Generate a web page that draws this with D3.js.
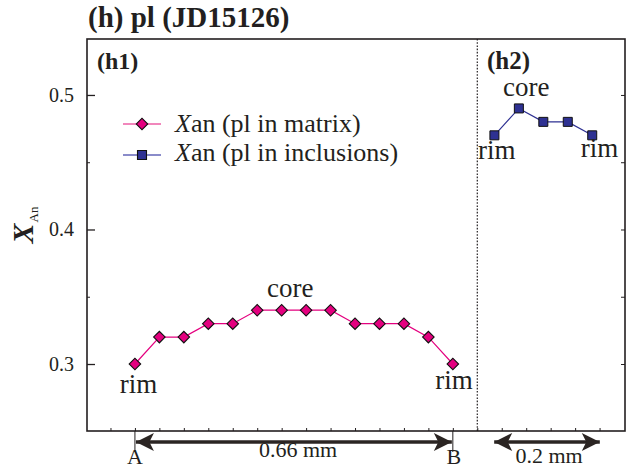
<!DOCTYPE html>
<html>
<head>
<meta charset="utf-8">
<script src="https://cdn.jsdelivr.net/npm/d3@7"></script>
<style>
  body { margin: 0; background: #fff; }
  svg text { font-family: "Liberation Serif", "Times New Roman", serif; fill: #231f20; }
</style>
</head>
<body>
<script>
const w = 627;
const h = 471;

// profile positions (spot number along the traverse) and X_An values
const matrixPos = [0, 1, 2, 3, 4, 5, 6, 7, 8, 9, 10, 11, 12, 13];
const matrixXan = [0.30, 0.32, 0.32, 0.33, 0.33, 0.34, 0.34, 0.34, 0.34, 0.33, 0.33, 0.33, 0.32, 0.30];
const inclPos = [14.7, 15.7, 16.7, 17.7, 18.7];
const inclXan = [0.47, 0.49, 0.48, 0.48, 0.47];
const yTicks = [0.3, 0.4, 0.5];
const yMinor = [0.35, 0.45];

// labels next to the profiles
const notes = [
    { text: "rim", pos: 0.15, val: 0.30, dy: 29 },
    { text: "core", pos: 6.35, val: 0.34, dy: -13 },
    { text: "rim", pos: 13.05, val: 0.30, dy: 25 },
    { text: "core", pos: 16, val: 0.49, dy: -12 },
    { text: "rim", pos: 14.8, val: 0.47, dy: 24 },
    { text: "rim", pos: 19.0, val: 0.47, dy: 22 }
];

const pink = "#e4007f";
const navy = "#2e3192";
const ink = "#231f20";

const svg = d3.select("body").append("svg")
    .attr("width", w)
    .attr("height", h);

const plotL = 87, plotR = 625, plotT = 39, plotB = 431;

const xScale = d3.scaleLinear().domain([-1.96, 20.04]).range([plotL, plotR]);
const yScale = d3.scaleLinear().domain([0.2502, 0.5416]).range([plotB, plotT]);

// title
svg.append("text")
    .attr("x", 88).attr("y", 27)
    .attr("font-size", 29).attr("font-weight", "bold")
    .text("(h) pl (JD15126)");

// frame
svg.append("rect")
    .attr("x", plotL).attr("y", plotT)
    .attr("width", plotR - plotL).attr("height", plotB - plotT)
    .attr("fill", "none").attr("stroke", ink).attr("stroke-width", 1.6);

// left axis, ticks pointing inside
const yAxis = d3.axisLeft(yScale).tickValues(yTicks).tickSize(-8).tickPadding(13)
    .tickFormat(d3.format(".1f"));
const gy = svg.append("g").attr("transform", `translate(${plotL},0)`).call(yAxis);
gy.select(".domain").remove();
gy.selectAll("line").attr("stroke", ink).attr("stroke-width", 1.3);
gy.selectAll("text").attr("font-size", 20).attr("font-family", "Liberation Serif").attr("fill", "#3c3c3c");

const gyMinor = svg.append("g").attr("transform", `translate(${plotL},0)`)
    .call(d3.axisLeft(yScale).tickValues(yMinor).tickSize(-3).tickFormat(""));
gyMinor.select(".domain").remove();
gyMinor.selectAll("line").attr("stroke", ink);

// right axis, short inner ticks
const gr = svg.append("g").attr("transform", `translate(${plotR},0)`)
    .call(d3.axisRight(yScale).tickValues(yTicks.concat(yMinor)).tickSize(-4).tickFormat(""));
gr.select(".domain").remove();
gr.selectAll("line").attr("stroke", ink);

// bottom axis, small inner ticks
const gx = svg.append("g").attr("transform", `translate(0,${plotB})`)
    .call(d3.axisBottom(xScale).tickValues(d3.range(-1, 20)).tickSize(-3).tickFormat(""));
gx.select(".domain").remove();
gx.selectAll("line").attr("stroke", ink);

// divider between h1 and h2
svg.append("line")
    .attr("x1", xScale(14)).attr("x2", xScale(14))
    .attr("y1", plotT).attr("y2", plotB)
    .attr("stroke", ink).attr("stroke-width", 1.2)
    .attr("stroke-dasharray", "1.6,1.6");

// y label
const yl = svg.append("text")
    .attr("transform", "translate(33,225) rotate(-90)")
    .attr("text-anchor", "middle");
yl.append("tspan").attr("font-size", 30).attr("font-weight", "bold").attr("font-style", "italic").text("X");
yl.append("tspan").attr("font-size", 13).attr("dy", 5).attr("dx", 1).text("An");

// panel labels
svg.append("text").attr("x", 97).attr("y", 69).attr("font-size", 24).attr("font-weight", "bold").text("(h1)");
svg.append("text").attr("x", 487).attr("y", 69).attr("font-size", 25).attr("font-weight", "bold").text("(h2)");

const line = d3.line().x(d => xScale(d[0])).y(d => yScale(d[1]));
const matrix = matrixPos.map((p, i) => [p, matrixXan[i]]);
const incl = inclPos.map((p, i) => [p, inclXan[i]]);

svg.append("path").datum(matrix).attr("d", line)
    .attr("fill", "none").attr("stroke", pink).attr("stroke-width", 1.2);
svg.append("path").datum(incl).attr("d", line)
    .attr("fill", "none").attr("stroke", navy).attr("stroke-width", 1.2);

const diamond = d3.symbol().type(d3.symbolSquare).size(66);
svg.selectAll(".dia").data(matrix).enter().append("path")
    .attr("class", "dia")
    .attr("d", diamond)
    .attr("transform", d => `translate(${xScale(d[0])},${yScale(d[1])}) rotate(45)`)
    .attr("fill", pink).attr("stroke", "#111").attr("stroke-width", 1.1);

const square = d3.symbol().type(d3.symbolSquare).size(81);
svg.selectAll(".sq").data(incl).enter().append("path")
    .attr("class", "sq")
    .attr("d", square)
    .attr("transform", d => `translate(${xScale(d[0])},${yScale(d[1])})`)
    .attr("fill", navy).attr("stroke", "#111").attr("stroke-width", 1);

// rim / core labels
svg.selectAll(".note").data(notes).enter().append("text")
    .attr("x", d => xScale(d.pos))
    .attr("y", d => yScale(d.val) + d.dy)
    .attr("text-anchor", "middle")
    .attr("font-size", 27)
    .attr("fill", "#333")
    .text(d => d.text);

// legend
const legend = [
    { label: "an (pl in matrix)", color: "#ec5fa6", fill: pink, sym: diamond, rot: 45, y: 124, ty: 132 },
    { label: "an (pl in inclusions)", color: "#6366b8", fill: navy, sym: square, rot: 0, y: 155, ty: 161 }
];
legend.forEach(l => {
    svg.append("line").attr("x1", 123).attr("x2", 161).attr("y1", l.y).attr("y2", l.y)
        .attr("stroke", l.color).attr("stroke-width", 1.3);
    svg.append("path").attr("d", l.sym)
        .attr("transform", `translate(142,${l.y}) rotate(${l.rot})`)
        .attr("fill", l.fill).attr("stroke", "#111").attr("stroke-width", 1.1);
    const t = svg.append("text").attr("x", 175).attr("y", l.ty).attr("font-size", 26).attr("fill", "#333");
    t.append("tspan").attr("font-style", "italic").text("X");
    t.append("tspan").text(l.label);
});

// scale bars under the axis
svg.append("defs").append("marker")
    .attr("id", "head").attr("viewBox", "0 0 10 10")
    .attr("refX", 10).attr("refY", 5)
    .attr("markerWidth", 5.5).attr("markerHeight", 5)
    .attr("markerUnits", "strokeWidth")
    .attr("orient", "auto-start-reverse")
    .append("path").attr("d", "M0,0 L10,5 L0,10 L2.5,5 Z").attr("fill", "#2b2523");

const barY = 442;
[[0, 13], [14.65, 19.05]].forEach(([a, b]) => {
    svg.append("line")
        .attr("x1", xScale(a) + 1).attr("x2", xScale(b) - 1)
        .attr("y1", barY).attr("y2", barY)
        .attr("stroke", "#2b2523").attr("stroke-width", 3.6)
        .attr("marker-start", "url(#head)").attr("marker-end", "url(#head)");
});
[0, 13].forEach(p => {
    svg.append("line").attr("x1", xScale(p)).attr("x2", xScale(p))
        .attr("y1", plotB).attr("y2", 452).attr("stroke", ink).attr("stroke-width", 1);
});
const small = { size: 22, fill: "#333" };
svg.append("text").attr("x", xScale(0)).attr("y", 464).attr("text-anchor", "middle").attr("font-size", small.size).attr("fill", small.fill).text("A");
svg.append("text").attr("x", xScale(13) + 1).attr("y", 464).attr("text-anchor", "middle").attr("font-size", small.size).attr("fill", small.fill).text("B");
svg.append("text").attr("x", 298).attr("y", 457).attr("text-anchor", "middle").attr("font-size", small.size).attr("fill", small.fill).text("0.66 mm");
svg.append("text").attr("x", 549).attr("y", 463).attr("text-anchor", "middle").attr("font-size", small.size).attr("fill", small.fill).text("0.2 mm");
</script>
</body>
</html>
